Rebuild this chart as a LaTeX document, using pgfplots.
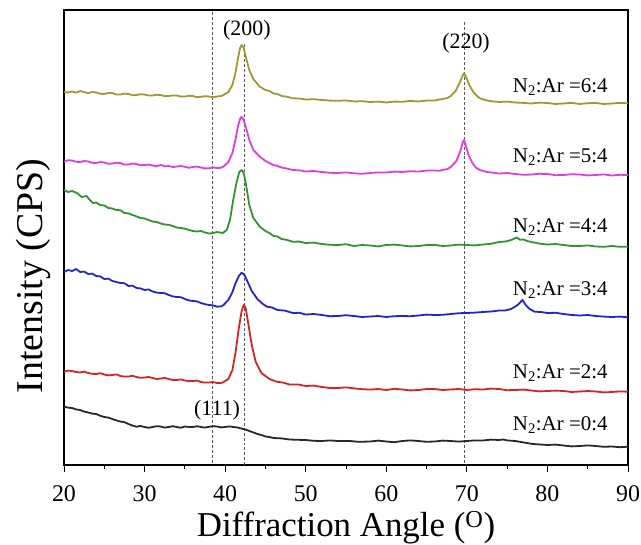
\documentclass[border=0pt]{standalone}
\usepackage{pgfplots}
\pgfplotsset{compat=1.18}
\usepackage{fontspec}
\setmainfont{Liberation Serif}
\definecolor{cOl}{RGB}{160,152,50}
\definecolor{cMa}{RGB}{225,60,225}
\definecolor{cGr}{RGB}{45,150,45}
\definecolor{cBl}{RGB}{35,35,210}
\definecolor{cRe}{RGB}{215,35,35}
\definecolor{cBk}{RGB}{40,40,40}
\begin{document}
\begin{tikzpicture}[x=1bp,y=1bp]
\begin{axis}[
  name=ax,
  scale only axis, width=564bp, height=455bp,
  xmin=20, xmax=90, ymin=10, ymax=465, y dir=reverse,
  xtick={20,30,...,90}, minor x tick num=1,
  ytick=\empty, xtick pos=bottom, tick align=outside,
  major tick length=7bp, minor tick length=4bp,
  axis line style={line width=1.2pt}, tick style={line width=1pt, black},
  /pgf/number format/assume math mode=true,
  xticklabel style={font=\fontsize{24}{26}\selectfont, inner sep=0pt, anchor=base, yshift=-29bp},
  xlabel={Diffraction Angle (\textsuperscript{O})},
  xlabel style={font=\fontsize{35}{38}\selectfont, at={(axis description cs:0.5,0)}, anchor=base, inner sep=0pt, yshift=-71.5bp},
  ylabel={Intensity (CPS)},
  ylabel style={font=\fontsize{38}{42}\selectfont, at={(axis description cs:-0.039,0.415)}, anchor=base, inner sep=0pt},
  clip=false,
  every axis plot/.append style={line width=1.8pt, line join=round},
]
\addplot[gray!70!black, densely dashed, line width=0.7pt] coordinates {(38.4,12) (38.4,465)};
\addplot[gray!70!black, densely dashed, line width=0.7pt] coordinates {(42.34,44) (42.34,465)};
\addplot[gray!70!black, densely dashed, line width=0.7pt] coordinates {(69.65,22) (69.65,465)};

\addplot[cOl] coordinates {
(20,91.7)(20.5,92.5)(21,91.5)(21.5,92.6)(22,91)(22.5,92.2)(23,93)(23.5,92)(24,92.5)(24.5,93.8)(25,94)(25.5,93)(26,93)(26.5,94.5)(27,94.5)(27.5,93.6)(28,94)(28.5,95.2)(29,95)(29.5,94.3)(30,94.5)(30.5,95.6)(31,95.5)(31.5,94.8)(32,95)(32.5,96.2)(33,96)(33.5,95.4)(34,95.5)(34.5,96.6)(35,96.5)(35.5,95.8)(36,96)(36.5,97.2)(37,96.8)(37.5,96.2)(38,96.5)(38.5,97.2)(39,96.5)(39.5,96)(39.8,95)(40.4,92)(40.9,85)(41.3,72)(41.6,58)(41.85,48)(42.05,45)(42.3,48)(42.6,58)(43.0,70)(43.5,79)(44.3,86.7)(45,90)(45.5,91)(46,93.5)(46.5,94)(47,96)(47.7,96.8)(48.4,98.3)(49.2,98.5)(50,99.5)(51,99.2)(52,100)(53,100.6)(54,100.8)(55,100.4)(56,101.5)(57,101.2)(58,102)(59,101.6)(60,102.5)(61,101.6)(62,101.8)(63,100.9)(64,101.5)(65,100.6)(66,100.5)(66.5,99.6)(67,99)(67.6,98)(68,96)(68.6,91)(69.1,83)(69.45,76)(69.65,73.3)(69.9,77)(70.3,85)(70.8,92)(71.2,95.5)(71.6,98.3)(72.5,100.5)(73.2,101.4)(74,102)(75,101.6)(76,102.5)(77,102.9)(78,103.5)(79,102.6)(80,103)(81,104)(82,103.5)(83,102.8)(84,104)(85,103.2)(86,103)(87,104)(88,103.5)(89,102.9)(90,103.3)};

\addplot[cMa] coordinates {
(20,161.7)(20.5,160.2)(21,160.5)(21.5,161.8)(22,162)(22.5,161)(23,161.5)(23.5,162.8)(24,163)(24.5,162)(25,162.5)(25.5,163.8)(26,163.5)(26.5,162.8)(27,163)(27.5,164.6)(28,164.5)(28.5,163.6)(29,164)(29.5,165.2)(30,165)(30.5,164.6)(31,165.5)(31.5,166.2)(32,165)(32.5,166.3)(33,166)(33.5,167)(34,166.5)(34.5,166)(35,166.8)(35.5,167.8)(36,167)(36.5,166.6)(37,167.5)(37.5,168.4)(38,168.3)(38.5,167.5)(39,168)(39.5,167.8)(39.8,166.5)(40.4,162)(40.9,153)(41.3,139)(41.6,126)(41.85,119)(42.05,116.7)(42.3,120)(42.6,128)(43.0,140)(43.5,150)(44.3,156.7)(45,161)(45.5,163)(46,165)(46.5,166)(47,167.5)(47.7,168.6)(48.4,170)(49.2,170.3)(50,171.5)(51,171)(52,172)(53,172.8)(54,173)(55,172.4)(56,173.3)(57,173.8)(58,173)(59,172.4)(60,172.5)(61,171.6)(62,172)(63,171.2)(64,171.5)(65,170.6)(66,170.5)(66.5,170.8)(67,170)(67.6,169)(68,167)(68.7,161)(69.2,151)(69.5,142)(69.65,140)(69.85,145)(70.2,155)(70.7,163)(71.1,167.5)(71.6,170)(72.5,172)(73.2,172.6)(74,173.5)(75,173)(76,174)(77,174.8)(78,174.5)(79,173.8)(80,174)(81,175.2)(82,175)(83,174.2)(84,174.5)(85,175.4)(86,175)(87,174.4)(88,175.5)(89,174.8)(90,175)};

\addplot[cGr] coordinates {
(20,190)(20.5,192)(21,191)(21.6,193)(22.2,197)(22.8,196)(23.2,200)(23.6,203)(24,202.5)(24.5,205)(25,205.5)(25.5,208)(26,208.5)(26.5,210)(27,210.2)(27.5,213)(28,213.4)(28.5,215)(29,216.4)(29.5,218)(30,218.5)(30.5,220)(31,221.5)(31.5,222)(32,223.5)(32.5,224.5)(33,224.8)(33.5,226)(34,227.5)(34.5,228)(35,228.6)(35.5,230)(36,231)(36.5,231.5)(37,231)(37.5,232.5)(38,233.5)(38.5,233)(39,232)(39.7,233)(40.2,230)(40.6,220)(41.0,200)(41.4,183)(41.75,172)(42.05,170)(42.3,173)(42.6,185)(43.0,205)(43.5,218)(44.3,226.7)(45,231)(45.5,233)(46,236)(46.5,236.5)(47,239)(47.7,240)(48.4,241.7)(49.2,241.6)(50,243)(51,242.6)(52,244)(53,244.8)(54,245)(55,244.2)(56,246)(57,245)(58,245.5)(59,246.4)(60,245)(61,244.6)(62,245.5)(63,246.4)(64,246)(65,245)(66,245)(67,246)(68,245.5)(69,244.6)(70,245)(71,245.4)(72,244.5)(73,243.8)(74,242)(74.8,241.5)(75.5,240)(76.2,237.5)(76.6,239.8)(77,239.5)(77.5,241)(78,242)(79,243.6)(80,244.5)(81,244)(82,245)(83,246)(84,246)(85,245.4)(86,246.5)(87,246.8)(88,246)(89,246.8)(90,246.7)};

\addplot[cBl] coordinates {
(20,272)(20.5,270)(21,271)(21.5,269)(22,272)(22.5,271.6)(23,274)(23.5,273.6)(24,276)(24.5,276.4)(25,279)(25.5,278.6)(26,281)(26.5,282)(27,283)(27.5,283.2)(28,286)(28.5,285.6)(29,288)(29.5,288.4)(30,290)(30.5,289.4)(31,291.5)(31.5,292.6)(32,293)(32.5,293.2)(33,295)(33.5,296.4)(34,297)(34.5,297.2)(35,299)(35.5,300.4)(36,301)(36.5,301.4)(37,303)(37.5,304.2)(38,305)(38.5,305.3)(39,306.7)(39.5,306.4)(39.8,305)(40.4,300)(40.9,292)(41.3,283)(41.7,276)(42.05,272.7)(42.4,275)(42.8,282)(43.3,291)(44,299)(44.6,303.5)(45.2,306.7)(45.8,307.5)(46.5,310)(47.4,310.6)(48.4,313)(49.2,312.8)(50,314.5)(51,314)(52,315)(53,316.2)(54,316)(55,315.2)(56,316)(57,317)(58,316.5)(59,316)(60,317)(61,316.2)(62,316)(63,316.2)(64,315.5)(65,314.6)(66,315)(67,314.8)(68,314)(69,313.2)(70,313)(71,312.6)(72,312)(73,311.5)(74,310.5)(74.8,310.4)(75.5,309)(76.3,305)(76.9,300)(77.3,305)(77.8,309)(78.4,311.7)(79.2,312)(80,313)(81,312.8)(82,314)(83,315)(84,315.5)(85,315)(86,316)(87,316.6)(88,317)(89,316.6)(90,317.3)};

\addplot[cRe] coordinates {
(20,371.7)(20.5,370.6)(21,371)(21.5,372)(22,372.5)(22.5,371.6)(23,373)(23.5,373.8)(24,374)(24.5,373.2)(25,374.5)(25.5,375.4)(26,375)(26.5,374.4)(27,376)(27.5,376.6)(28,376.5)(28.5,375.8)(29,377)(29.5,377.8)(30,377.5)(30.5,377)(31,378)(31.5,379)(32,378.5)(32.5,378)(33,379)(33.5,380)(34,380)(34.5,379.4)(35,380.5)(35.5,381.2)(36,381)(36.5,380.6)(37,382)(37.5,382.6)(38,382.5)(38.5,382)(39,383)(39.5,383)(39.8,382)(40.4,379)(40.9,370)(41.3,352)(41.7,328)(42.05,311)(42.3,305)(42.55,308)(42.9,325)(43.3,345)(43.8,362)(44.5,373)(45.5,379)(46.4,381.7)(47.2,382.6)(48,384.5)(49,384.4)(50,386)(51,385.6)(52,387)(53,388)(54,388)(55,387.4)(56.7,389)(58,389.6)(59,389)(60,390)(61,388.8)(62,389.5)(63,390.4)(64,390)(65,389)(66,389)(67,390)(68,389.5)(69,389)(70,390)(71,389.2)(72,389.5)(73,388.6)(74,389)(75,390.2)(76,390)(77,389.6)(78,390.5)(79,391.4)(80,391)(81,390.6)(82,391)(83,392)(84,391.5)(85,391)(86,391.5)(87,392.4)(88,392)(89,391.4)(90,391.7)};

\addplot[cBk] coordinates {
(20,406.7)(20.5,407.6)(21,408)(21.5,409.4)(22,410)(22.5,411.6)(23,412.5)(23.5,413.6)(24,414)(24.5,415.8)(25,417)(25.5,417.6)(26,419)(26.5,420.4)(27,421.5)(27.5,422.2)(28,424)(28.5,425.6)(29,426.7)(29.5,426)(30,427)(30.5,427.8)(31,427)(31.5,426.2)(32,426.5)(32.5,427.6)(33,427)(33.5,426.2)(34,427)(34.5,427.8)(35,426.5)(35.5,427)(36,427)(36.5,426.2)(37,427)(37.5,427.6)(38,426.8)(38.5,426.2)(39,426.5)(39.5,427.4)(40,427)(40.5,426.4)(41,427)(41.5,427.4)(42,428.5)(42.5,429.4)(43,431)(43.5,432.4)(44,434)(44.5,435)(45,436.5)(45.5,437)(46,438)(47,438.4)(48,439.5)(49,439.8)(50,440)(51,440.8)(52,441)(53,440.4)(54,441)(55.5,441)(56.5,441.8)(58,441.5)(59,440.6)(60,441.5)(61,442.2)(62,441)(63,440.4)(64,441)(65,441.8)(66,441.5)(67,440.6)(68,441)(69,441.6)(70,441)(71,440.4)(72,440.5)(73,439.6)(74,440)(74.5,439.5)(75,440.4)(76,441)(77,442.4)(78.2,444)(79,444.4)(80,445)(81,444.6)(82,445.5)(83,446.4)(84,446)(85,445.4)(86,446)(87,446.8)(88,446.5)(89,447.2)(90,446.7)};

\node[font=\fontsize{22}{24}\selectfont, anchor=center] at (axis cs:42.7,30) {(200)};
\node[font=\fontsize{22}{24}\selectfont, anchor=center] at (axis cs:69.9,43) {(220)};
\node[font=\fontsize{22}{24}\selectfont, anchor=center] at (axis cs:39,410) {(111)};
\node[font=\fontsize{21}{24}\selectfont, anchor=east] at (axis cs:87.9,87) {N\textsubscript{2}:Ar =6:4};
\node[font=\fontsize{21}{24}\selectfont, anchor=east] at (axis cs:87.9,157) {N\textsubscript{2}:Ar =5:4};
\node[font=\fontsize{21}{24}\selectfont, anchor=east] at (axis cs:87.9,227) {N\textsubscript{2}:Ar =4:4};
\node[font=\fontsize{21}{24}\selectfont, anchor=east] at (axis cs:87.9,290) {N\textsubscript{2}:Ar =3:4};
\node[font=\fontsize{21}{24}\selectfont, anchor=east] at (axis cs:87.9,373) {N\textsubscript{2}:Ar =2:4};
\node[font=\fontsize{21}{24}\selectfont, anchor=east] at (axis cs:87.9,425) {N\textsubscript{2}:Ar =0:4};
\end{axis}
\pgfresetboundingbox
\path[use as bounding box] ([shift={(-64bp,-80bp)}]ax.south west) rectangle ([shift={(13bp,10bp)}]ax.north east);
\end{tikzpicture}
\end{document}
